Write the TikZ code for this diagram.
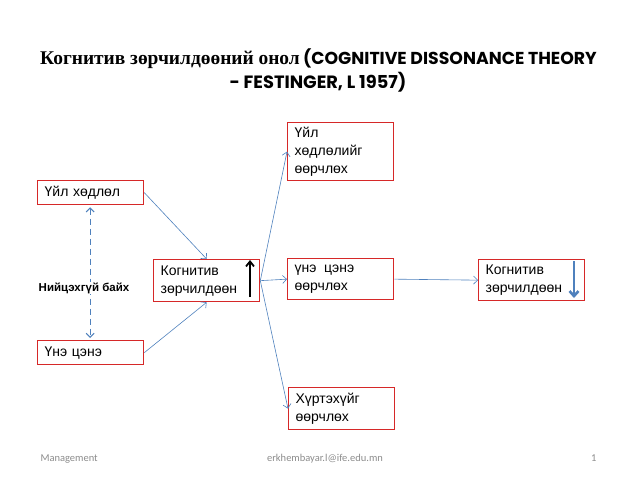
\documentclass[tikz,border=0pt]{standalone}
\usepackage{fontspec}
\usepackage{xcolor}
\usepackage{tikz}
\usetikzlibrary{arrows.meta,calc,positioning}
\newfontfamily\arialfont{Liberation Sans}
\newfontfamily\timesfont{Liberation Serif}
\newfontfamily\cartoonfont{Poppins}
\newfontfamily\calibrifont{Carlito}
\definecolor{boxred}{RGB}{214,40,40}
\definecolor{linkblue}{RGB}{79,129,189}
\definecolor{footgray}{RGB}{140,140,140}
\tikzstyle{arrow} = [draw=linkblue, line width=0.6pt, -{Straight Barb[length=4pt,width=8pt]}]
\tikzstyle{box} = [rectangle, draw=boxred, line width=1.3pt, fill=white, align=left,
                   anchor=north west, text width=92pt, inner xsep=7pt, inner ysep=3pt,
                   font={\arialfont\fontsize{14}{18}\selectfont}]
\tikzstyle{foot} = [anchor=base, text=footgray, font={\calibrifont\fontsize{10.5}{12}\selectfont}]

\begin{document}
\begin{tikzpicture}[x=1pt, y=-1pt]
      \useasboundingbox (0,0) rectangle (638,479);
      % title
      \node [anchor=base] at (318.5,64) (title1)
        {{\timesfont\bfseries\fontsize{19.4}{24}\selectfont Когнитив зөрчилдөөний онол}
         {\cartoonfont\bfseries\fontsize{17.3}{24}\selectfont (COGNITIVE DISSONANCE THEORY}};
      \node [anchor=base] at (318,88) (title2)
        {\cartoonfont\bfseries\fontsize{17.8}{24}\selectfont - FESTINGER, L 1957)};
      % left column
      \node [box, minimum height=24pt] at (37,180) (act) {Үйл хөдлөл};
      \node [box, minimum height=24pt] at (37,340) (value) {Үнэ цэнэ};
      % centre
      \node [box, minimum height=42pt] at (153,259) (kogL)
        {Когнитив\\зөрчилдөөн};
      % right column
      \node [box, minimum height=58pt] at (287,122) (chact)
        {Үйл\\хөдлөлийг\\өөрчлөх};
      \node [box, minimum height=41pt] at (287,258) (chval)
        {үнэ\hspace{3pt} цэнэ\\өөрчлөх};
      \node [box, minimum height=42pt] at (288,387) (chper)
        {Хүртэхүйг\\өөрчлөх};
      \node [box, minimum height=41pt] at (478,259) (kogR)
        {Когнитив\\зөрчилдөөн};
      % arrows inside the boxes
      \coordinate (upS) at (250,297);
      \coordinate (upE) at (250,260);
      \coordinate (dnS) at (574,261);
      \coordinate (dnE) at (574,298);
      \draw [line width=1.8pt, -{Straight Barb[length=5pt,width=8pt]}] (upS) -- (upE);
      \draw [linkblue, line width=2.6pt, -{Straight Barb[length=5pt,width=9pt]}] (dnS) -- (dnE);
      % connectors
      \path [arrow] (act.east) -- (kogL.north);
      \path [arrow] (value.east) -- (kogL.south);
      \path [arrow] (kogL.east) -- (chact.west);
      \path [arrow] (kogL.east) -- (chval.west);
      \path [arrow] (kogL.east) -- (chper.west);
      \path [arrow] (chval.east) -- (kogR.west);
      \path [draw=linkblue, line width=1pt, dash pattern=on 6pt off 4pt,
             {Straight Barb[length=4pt,width=8pt]}-{Straight Barb[length=4pt,width=8pt]}]
        ($(act.south)+(-0.5,2)$) -- ($(value.north)+(-0.5,-2)$);
      \node [fill=white, inner sep=1pt, font={\arialfont\bfseries\fontsize{11.5}{14}\selectfont}]
        at (84,288) (conflict) {Нийцэхгүй байх};
      % footer
      \node [foot, anchor=base west] at (37,461) (topic) {Management};
      \node [foot] at (325,461) (mail) {erkhembayar.l@ife.edu.mn};
      \node [foot, anchor=base east] at (600,461) (page) {1};
\end{tikzpicture}
\end{document}
